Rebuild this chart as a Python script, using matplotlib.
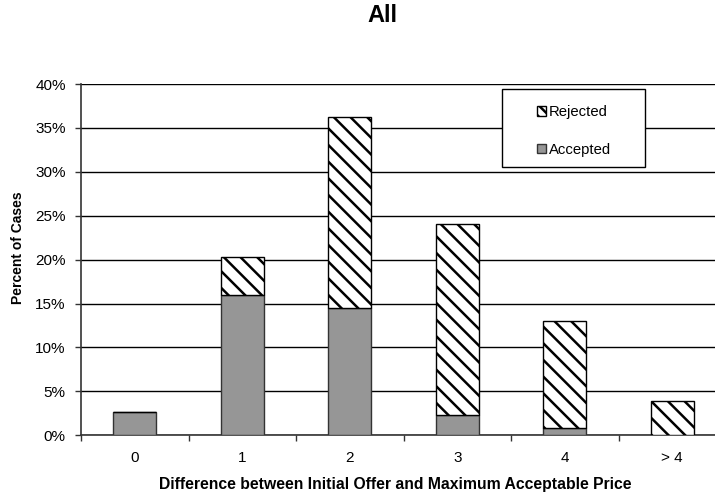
import matplotlib.pyplot as plt
from matplotlib.patches import Rectangle, Patch

plt.rcParams['font.family'] = ['Liberation Sans', 'DejaVu Sans']
plt.rcParams['hatch.linewidth'] = 1.8

categories = ['0', '1', '2', '3', '4', '> 4']
accepted = [2.6, 16.0, 14.45, 2.3, 0.85, 0.0]
total = [2.6, 20.3, 36.2, 24.1, 13.05, 3.85]
rejected = [t - a for t, a in zip(total, accepted)]
yticks = [0, 5, 10, 15, 20, 25, 30, 35, 40]

W, H = 715, 495
fig = plt.figure(figsize=(7.15, 4.95), dpi=100)
# plot area runs past the right edge, as in the cropped original
ax = fig.add_axes([81 / W, (H - 435.3) / H, 645 / W, 351.3 / H])

x = list(range(len(categories)))
ax.bar(x, accepted, width=0.4, color='#969696', edgecolor='#333333', linewidth=1, zorder=3)
ax.bar(x, rejected, width=0.4, bottom=accepted, color='white', edgecolor='black',
       hatch='\\\\', linewidth=1, zorder=3)

ax.set_xlim(-0.5, len(categories) - 0.5)
ax.set_ylim(0, 40)
ax.set_yticks(yticks)
ax.set_yticklabels([f'{v}%' for v in yticks], fontsize=11)
ax.yaxis.grid(True, color='black', linewidth=1)
ax.set_axisbelow(True)

ax.set_xticks(x)
ax.set_xticklabels(categories, fontsize=11)
ax.set_xticks([i - 0.5 for i in range(len(categories) + 1)], minor=True)
ax.tick_params(axis='x', which='major', length=0, pad=11)
ax.tick_params(axis='x', which='minor', length=4, width=1, color='#333333', direction='out')
ax.tick_params(axis='y', length=4, width=1, color='#333333', pad=7)

for s in ['top', 'right']:
    ax.spines[s].set_visible(False)
for s in ['left', 'bottom']:
    ax.spines[s].set_color('#333333')
    ax.spines[s].set_linewidth(1.2)

ax.set_ylabel('Percent of Cases', fontsize=10, fontweight='bold')
ax.yaxis.set_label_coords((25 - 81) / 645, (435.3 - 247.6) / 351.3)
fig.text(395 / W, 1 - 485 / H, 'Difference between Initial Offer and Maximum Acceptable Price',
         fontsize=11.3, fontweight='bold', ha='center', va='center')
fig.text(382 / W, 1 - 15 / H, 'All', fontsize=17, fontweight='bold', ha='center', va='center')

# legend box drawn separately, entries in the middle
fig.patches.append(Rectangle((502 / W, 1 - 167 / H), 143 / W, 78 / H, transform=fig.transFigure,
                             facecolor='white', edgecolor='black', linewidth=1, zorder=5))
handles = [Patch(facecolor='white', edgecolor='black', hatch='\\\\\\'),
           Patch(facecolor='#969696', edgecolor='#333333')]
fig.legend(handles, ['Rejected', 'Accepted'], loc='center', bbox_to_anchor=(574 / W, 1 - 131 / H),
           frameon=False, fontsize=10.7, handlelength=0.6, handleheight=0.6, handletextpad=0.2,
           labelspacing=1.6)

fig.savefig('out.png', dpi=100)
